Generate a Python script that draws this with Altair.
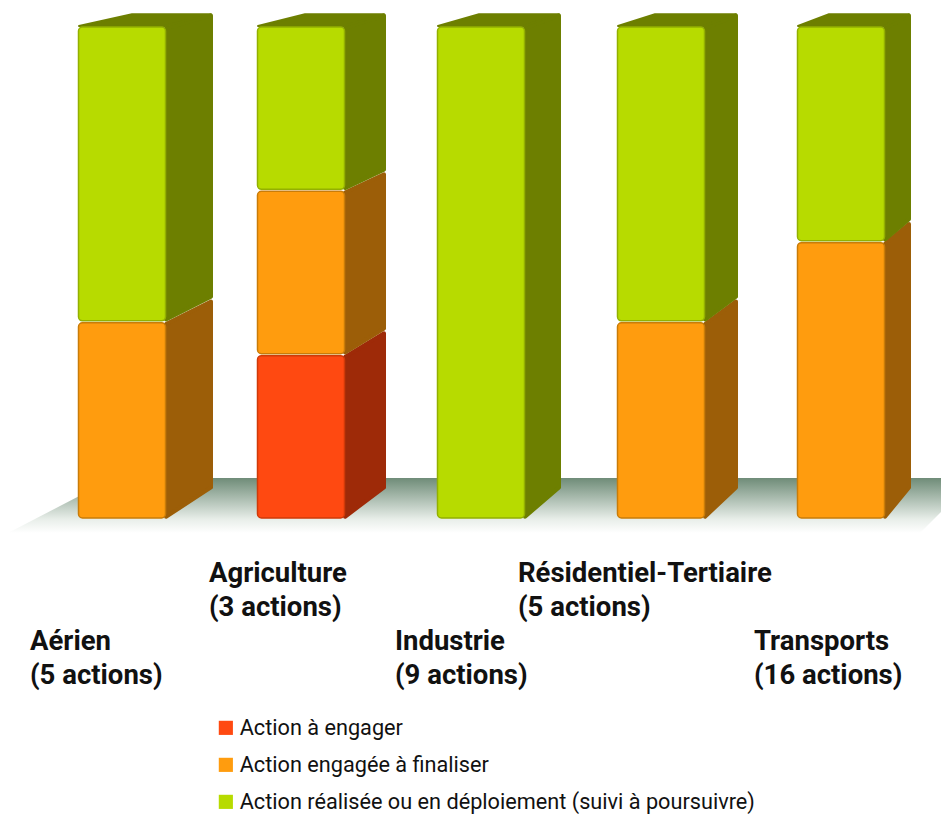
import altair as alt
import pandas as pd

# ---- chart values
sectors = ["Aérien", "Agriculture", "Industrie", "Résidentiel-Tertiaire", "Transports"]
a_engager = [0, 1, 0, 0, 0]
a_finaliser = [2, 1, 0, 2, 9]
realisee = [3, 1, 9, 3, 7]
statuses = ["Action à engager", "Action engagée à finaliser", "Action réalisée ou en déploiement (suivi à poursuivre)"]
front_colors = ["#FF4911", "#FF9C0E", "#B7DB00"]
edge_colors = ["#D03A08", "#C97C08", "#93B000"]
side_colors = ["#9E2A08", "#9C5E08", "#6D7F00"]

# ---- layout of the pseudo-3D drawing, in page pixels
bar_left = [78, 257, 437, 617, 797]
bar_width = 88
bar_depth = [47, 41, 36, 33, 26]
top_skew = [54, 48, 42, 38, 32]
label_x = [30, 209, 395, 518, 754]
label_y = [650, 582, 650, 582, 650]
BASE_PX, TOP_PX = 519, 26
UNIT = (BASE_PX - TOP_PX) / 100
FONT = "Roboto"


def px(y):
    return (BASE_PX - y) / UNIT


def back(p):
    return 5.9 + 0.967 * p


front, side, top = [], [], []
for i, s in enumerate(sectors):
    counts = [a_engager[i], a_finaliser[i], realisee[i]]
    total = sum(counts)
    cum = 0
    L, R = bar_left[i], bar_left[i] + bar_width
    for k, c in enumerate(counts):
        if c == 0:
            continue
        p0, p1 = 100 * cum / total, 100 * (cum + c) / total
        cum += c
        front.append(dict(sector=s, status=statuses[k], edge=edge_colors[k],
                          x0=L + .5, x1=R - .5, p0=p0 + .2, p1=p1 - .2))
        gid = f"{s}{k}"
        side.append(dict(g=gid, c=side_colors[k], x=R, y0=p0 + .45, y1=p1 - .45))
        side.append(dict(g=gid, c=side_colors[k], x=R + bar_depth[i] - 2,
                         y0=back(p0) + .5, y1=back(p1) - .45))
    top.append(dict(g=s, c=side_colors[2], y=100, l=L + 1, r=R - 1))
    top.append(dict(g=s, c=side_colors[2], y=back(100) - .2, l=L + top_skew[i], r=R + bar_depth[i] - 2))

floor = [dict(y=px(478), l=114, r=975), dict(y=px(533), l=8, r=920)]
labels = []
for i, s in enumerate(sectors):
    n = a_engager[i] + a_finaliser[i] + realisee[i]
    labels.append(dict(x=label_x[i], y=px(label_y[i]), t=s))
    labels.append(dict(x=label_x[i], y=px(label_y[i] + 34), t=f"({n} actions)"))

xs = alt.Scale(domain=[8, 941], range=[0, 933], nice=False, zero=False)
ys = alt.Scale(domain=[px(814), px(8)], range=[806, 0], nice=False, zero=False)
X = lambda f: alt.X(f, type="quantitative", scale=xs, axis=None)
Y = lambda f: alt.Y(f, type="quantitative", scale=ys, axis=None)

floor_l = alt.Chart(pd.DataFrame(floor)).mark_area(
    orient="horizontal", clip=True,
    color=alt.Gradient(gradient="linear", x1=0, x2=0, y1=0, y2=1,
                       stops=[alt.GradientStop(color="#6F8C78", offset=0),
                              alt.GradientStop(color="#E8EEE9", offset=0.75),
                              alt.GradientStop(color="#FFFFFF", offset=1)]),
).encode(y=Y("y"), x=X("l"), x2="r")

side_l = alt.Chart(pd.DataFrame(side)).mark_area(strokeJoin="round", strokeWidth=4).encode(
    x=X("x"), y=Y("y0"), y2="y1", detail="g:N",
    fill=alt.Fill("c:N", scale=None), stroke=alt.Stroke("c:N", scale=None))

top_l = alt.Chart(pd.DataFrame(top)).mark_area(orient="horizontal", strokeJoin="round", strokeWidth=2).encode(
    y=Y("y"), x=X("l"), x2="r", detail="g:N",
    fill=alt.Fill("c:N", scale=None), stroke=alt.Stroke("c:N", scale=None))

front_l = alt.Chart(pd.DataFrame(front)).mark_bar(cornerRadius=4, strokeWidth=1.5).encode(
    x=X("x0"), x2="x1", y=Y("p0"), y2="p1",
    fill=alt.Fill("status:N", scale=alt.Scale(domain=statuses, range=front_colors),
                  legend=alt.Legend(title=None, orient="none", legendX=207, legendY=709,
                                    symbolType="square", symbolSize=200, symbolStrokeWidth=0,
                                    symbolOpacity=1, rowPadding=14, labelFont=FONT,
                                    labelFontSize=21.7, labelColor="#111111", labelLimit=700,
                                    labelOffset=3, columns=1)),
    stroke=alt.Stroke("edge:N", scale=None))

text_l = alt.Chart(pd.DataFrame(labels)).mark_text(
    align="left", baseline="alphabetic", font=FONT, fontSize=27.5,
    fontWeight="bold", color="#111111",
).encode(x=X("x"), y=Y("y"), text="t:N")

chart = alt.layer(floor_l, side_l, top_l, front_l, text_l).properties(
    width=933, height=806, padding=0, autosize=alt.AutoSizeParams(type="none"),
).configure_view(stroke=None)

chart.save("out.html", embed_options={"renderer": "svg", "actions": False})
